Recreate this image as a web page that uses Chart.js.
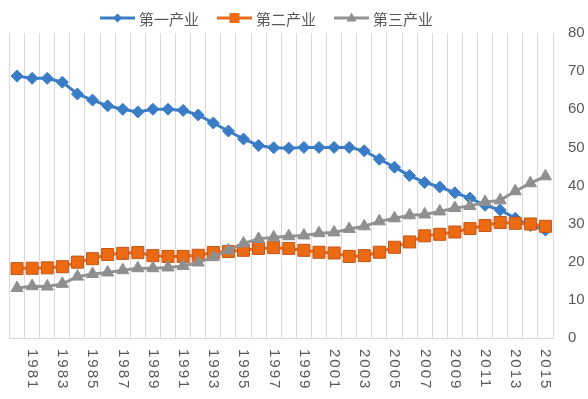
<!DOCTYPE html>
<html>
<head>
<meta charset="utf-8">
<script src="https://cdn.jsdelivr.net/npm/chart.js@4.4.1/dist/chart.umd.min.js"></script>
<style>
  html, body { margin: 0; padding: 0; background: #fff; }
  #wrap { width: 588px; height: 399px; position: relative; }
</style>
</head>
<body>
<div id="wrap"><canvas id="sectorChart"></canvas></div>
<script>
const years = [
  1980, 1981, 1982, 1983, 1984, 1985, 1986, 1987, 1988, 1989,
  1990, 1991, 1992, 1993, 1994, 1995, 1996, 1997, 1998, 1999,
  2000, 2001, 2002, 2003, 2004, 2005, 2006, 2007, 2008, 2009,
  2010, 2011, 2012, 2013, 2014, 2015
];
const yearLabels = [
  "1981", "1983", "1985", "1987", "1989", "1991", "1993", "1995", "1997",
  "1999", "2001", "2003", "2005", "2007", "2009", "2011", "2013", "2015"
];
const seriesNames = ["第一产业", "第二产业", "第三产业"];

const primary = [
  68.7, 68.1, 68.1, 67.1, 64.0, 62.4, 60.9, 60.0, 59.3, 60.0,
  60.0, 59.7, 58.5, 56.4, 54.3, 52.2, 50.5, 49.9, 49.8, 50.0,
  50.0, 50.0, 50.0, 49.1, 46.9, 44.8, 42.6, 40.8, 39.6, 38.1,
  36.7, 34.8, 33.6, 31.4, 29.5, 28.3
];
const secondary = [
  18.2, 18.3, 18.4, 18.7, 19.9, 20.8, 21.9, 22.2, 22.4, 21.6,
  21.4, 21.4, 21.7, 22.4, 22.7, 23.0, 23.5, 23.7, 23.5, 23.0,
  22.5, 22.3, 21.4, 21.6, 22.5, 23.8, 25.2, 26.8, 27.2, 27.8,
  28.7, 29.5, 30.3, 30.1, 29.9, 29.3
];
const tertiary = [
  13.1, 13.6, 13.5, 14.2, 16.1, 16.8, 17.2, 17.8, 18.3, 18.3,
  18.5, 18.9, 19.8, 21.2, 23.0, 24.8, 26.0, 26.4, 26.7, 26.9,
  27.5, 27.7, 28.6, 29.3, 30.6, 31.4, 32.2, 32.4, 33.2, 34.1,
  34.6, 35.7, 36.1, 38.5, 40.6, 42.4
];
const yMin = 0;
const yMax = 80;
const yStep = 10;

const textColor = "#595959";
const gridColor = "#d9d9d9";

// draws one marker shape, used for the legend
const drawMarker = (ctx, style, x, y, r) => {
  ctx.beginPath();
  if (style === "rectRot") {
    ctx.moveTo(x, y - r);
    ctx.lineTo(x + r, y);
    ctx.lineTo(x, y + r);
    ctx.lineTo(x - r, y);
  } else if (style === "rect") {
    ctx.rect(x - r, y - r, 2 * r, 2 * r);
  } else {
    ctx.moveTo(x, y - r * 1.1);
    ctx.lineTo(x + r, y + r * 0.7);
    ctx.lineTo(x - r, y + r * 0.7);
  }
  ctx.closePath();
  ctx.fill();
};

const lineLegend = {
  id: "lineLegend",
  afterDraw(chart) {
    const { ctx } = chart;
    const y = 18;
    let x = 100;
    ctx.save();
    ctx.font = "15px 'Noto Sans CJK SC'";
    ctx.textBaseline = "middle";
    ctx.textAlign = "left";
    chart.data.datasets.forEach((ds) => {
      ctx.strokeStyle = ds.borderColor;
      ctx.lineWidth = 3;
      ctx.beginPath();
      ctx.moveTo(x, y);
      ctx.lineTo(x + 35, y);
      ctx.stroke();
      ctx.fillStyle = ds.pointBackgroundColor;
      drawMarker(ctx, ds.pointStyle, x + 17.5, y, ds.legendMarker);
      ctx.fillStyle = textColor;
      ctx.fillText(ds.label, x + 39, y + 1);
      x += 39 + ctx.measureText(ds.label).width + 18;
    });
    ctx.restore();
  }
};

// year labels read top-to-bottom (rotated clockwise), which chart.js can't do itself
const verticalYearLabels = {
  id: "verticalYearLabels",
  afterDraw(chart) {
    const { ctx, chartArea } = chart;
    const xScale = chart.scales.x;
    ctx.save();
    ctx.font = "15px 'Liberation Sans'";
    ctx.letterSpacing = "2px";
    ctx.fillStyle = textColor;
    ctx.textAlign = "left";
    ctx.textBaseline = "middle";
    years.forEach((year, i) => {
      if (!yearLabels.includes(String(year))) return;
      const px = xScale.getPixelForValue(i);
      ctx.save();
      ctx.translate(px, chartArea.bottom + 11);
      ctx.rotate(Math.PI / 2);
      ctx.fillText(String(year), 0, 0);
      ctx.restore();
    });
    ctx.restore();
  }
};

const data = {
  labels: years.map(String),
  datasets: [
    {
      label: seriesNames[0],
      data: primary,
      borderColor: "#3a7dc6",
      pointBackgroundColor: "#3a7dc6",
      pointBorderColor: "#3a7dc6",
      pointStyle: "rectRot",
      pointRadius: 6,
      legendMarker: 4.5,
      order: 2,
    },
    {
      label: seriesNames[1],
      data: secondary,
      borderColor: "#e8691f",
      pointBackgroundColor: "#ec6a12",
      pointBorderColor: "#c2561a",
      pointStyle: "rect",
      pointRadius: 8.5,
      legendMarker: 5,
      order: 1,
    },
    {
      label: seriesNames[2],
      data: tertiary,
      borderColor: "#929292",
      pointBackgroundColor: "#8f8f8f",
      pointBorderColor: "#8f8f8f",
      pointStyle: "triangle",
      pointRadius: 7,
      legendMarker: 5,
      order: 0,
    },
  ],
};

const config = {
  type: "line",
  data: data,
  options: {
    responsive: true,
    maintainAspectRatio: false,
    devicePixelRatio: 1,
    animation: false,
    layout: {
      padding: { left: 6, right: 3, top: 33, bottom: 61 },
    },
    elements: {
      line: { borderWidth: 3, tension: 0 },
      point: { borderWidth: 1, hoverRadius: 6 },
    },
    plugins: {
      legend: { display: false },
      tooltip: { enabled: false },
    },
    scales: {
      x: {
        offset: true,
        grid: {
          offset: true,
          color: gridColor,
          lineWidth: 1,
          drawTicks: false,
        },
        border: { color: gridColor },
        ticks: { display: false },
      },
      y: {
        position: "right",
        min: yMin,
        max: yMax,
        afterFit: (scale) => {
          scale.width = 32;
        },
        grid: { display: false, drawTicks: false },
        border: { display: false },
        ticks: {
          stepSize: yStep,
          padding: 15,
          color: textColor,
          font: { family: "'Liberation Sans'", size: 15 },
        },
      },
    },
  },
  plugins: [lineLegend, verticalYearLabels],
};

const sectorChart = new Chart(document.querySelector("#sectorChart"), config);
</script>
</body>
</html>
